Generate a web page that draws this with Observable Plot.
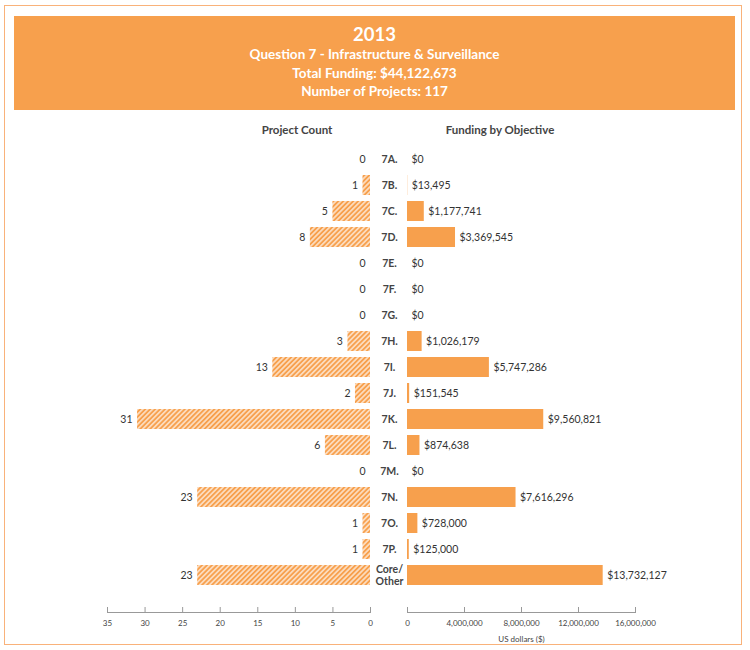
<!DOCTYPE html>
<html><head><meta charset="utf-8">
<script src="https://cdn.jsdelivr.net/npm/d3@7"></script>
<script src="https://cdn.jsdelivr.net/npm/@observablehq/plot@0.6"></script>
<style>
body{margin:0;background:#fff;font-family:Lato,"Open Sans",sans-serif}
#wrap{position:relative;width:750px;height:650px;overflow:hidden;background:#fff}
#border{position:absolute;left:4px;top:5px;width:738px;height:640px;border:1.5px solid #F9B27A;box-sizing:border-box}
#header{position:absolute;left:14px;top:16px;width:721px;height:94px;background:#F7A04D;color:#fff;text-align:center;font-weight:bold;box-sizing:border-box;padding-top:8px}
#header .t{font-size:18.5px;line-height:21px}
#header .s{font-size:13.5px;line-height:18.5px}
.colh{position:absolute;top:123px;font-size:11.5px;font-weight:bold;color:#444;transform:translateX(-50%);white-space:nowrap}
.plot{position:absolute;left:0;top:0}
</style>
</head><body>
<div id="wrap">
  <div id="border"></div>
  <div id="header">
    <div class="t">2013</div>
    <div class="s">Question 7 - Infrastructure &amp; Surveillance</div>
    <div class="s">Total Funding: $44,122,673</div>
    <div class="s">Number of Projects: 117</div>
  </div>
  <div class="colh" style="left:297px">Project Count</div>
  <div class="colh" style="left:500px">Funding by Objective</div>
</div>
<script>
const categories = ["7A.","7B.","7C.","7D.","7E.","7F.","7G.","7H.","7I.","7J.","7K.","7L.","7M.","7N.","7O.","7P.","Core/\nOther"];
const counts = [0,1,5,8,0,0,0,3,13,2,31,6,0,23,1,1,23];
const funding = [0,13495,1177741,3369545,0,0,0,1026179,5747286,151545,9560821,874638,0,7616296,728000,125000,13732127];
const countTicks = [0,5,10,15,20,25,30,35];
const fundTicks = [0,4000000,8000000,12000000,16000000];

const ORANGE = "#F7A04D";
const rows = categories.map((c,i)=>({cat:c, count:counts[i], fund:funding[i]}));
const yOpts = {domain:categories, range:[143,590], paddingInner:0.24, paddingOuter:0.12, axis:null};
const baseStyle = {fontFamily:"Lato, 'Open Sans', sans-serif", fontSize:"8px", color:"#444", background:"transparent", overflow:"visible"};
const fmt = d3.format(",");

const left = Plot.plot({
  width:750, height:650, marginLeft:107, marginRight:380, marginTop:144, marginBottom:38,
  style:baseStyle,
  x:{domain:[0,35], reverse:true},
  y:yOpts,
  marks:[
    Plot.barX(rows,{x1:0, x2:"count", y:"cat", fill:"url(#hatch)"}),
    Plot.text(rows,{x:"count", y:"cat", text:d=>String(d.count), textAnchor:"end", dx:-5, fontSize:10.5, fill:"#333"}),
    Plot.frame({anchor:"bottom", stroke:"#999"}),
    Plot.axisX({ticks:countTicks, tickSize:-5, tickPadding:13, tickFormat:d=>String(d), label:null, stroke:"#999", fill:"#444"})
  ]
});
left.classList.add("plot");

const right = Plot.plot({
  width:750, height:650, marginLeft:407, marginRight:115, marginTop:144, marginBottom:38,
  style:baseStyle,
  x:{domain:[0,16000000]},
  y:yOpts,
  marks:[
    Plot.barX(rows,{x1:0, x2:"fund", y:"cat", fill:ORANGE}),
    Plot.text(rows,{x:"fund", y:"cat", text:d=>"$"+fmt(d.fund), textAnchor:"start", dx:4, fontSize:10.5, fill:"#333"}),
    Plot.text(rows,{x:0, y:"cat", text:"cat", textAnchor:"middle", dx:-18, fontSize:10.5, fontWeight:"bold", fill:"#444", lineHeight:1.15}),
    Plot.frame({anchor:"bottom", stroke:"#999"}),
    Plot.axisX({ticks:fundTicks, tickSize:-5, tickPadding:13, tickFormat:d=>fmt(d), label:null, stroke:"#999", fill:"#444"}),
    Plot.text(["US dollars ($)"],{frameAnchor:"bottom", dy:29, text:d=>d, fontSize:8, fill:"#444"})
  ]
});
right.classList.add("plot");

const wrap = document.getElementById("wrap");
wrap.appendChild(left);
wrap.appendChild(right);

const svgL = left.tagName.toLowerCase()==="svg" ? left : left.querySelector("svg");
d3.select(svgL).insert("defs",":first-child").html(
  `<pattern id="hatch" patternUnits="userSpaceOnUse" width="3.5" height="3.5" patternTransform="rotate(45)">
     <rect width="3.5" height="3.5" fill="${ORANGE}"/>
     <line x1="1.75" y1="-1" x2="1.75" y2="4.5" stroke="#fff" stroke-width="1.1"/>
   </pattern>`);
</script>
</body></html>
